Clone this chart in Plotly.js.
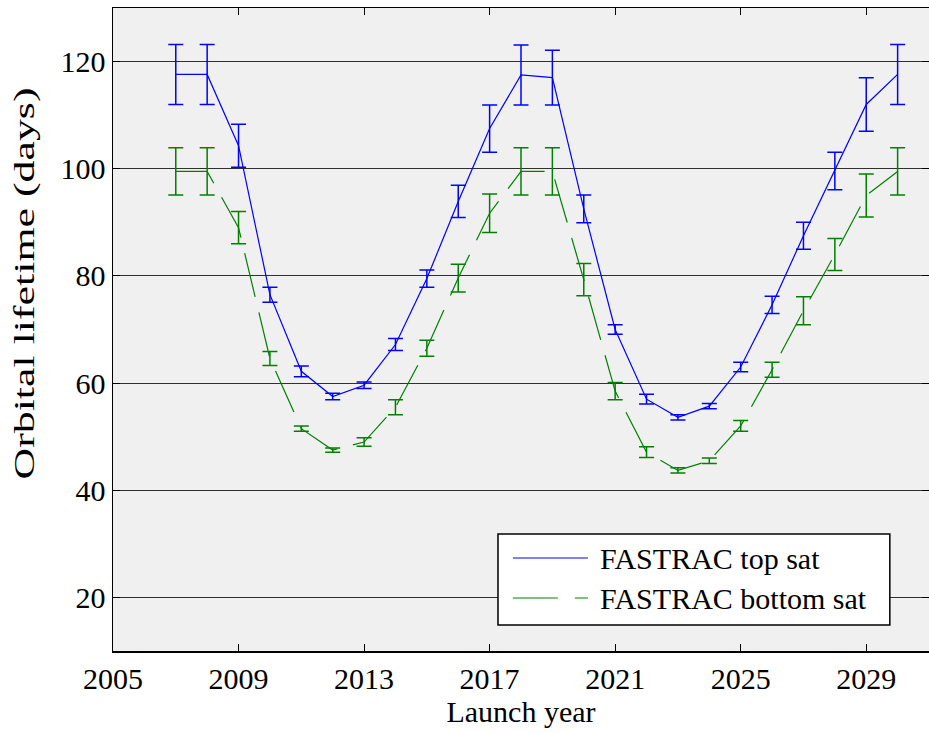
<!DOCTYPE html>
<html>
<head>
<meta charset="utf-8">
<script src="https://cdn.plot.ly/plotly-3.0.1.min.js"></script>
<style>
  html, body { margin: 0; padding: 0; background: #ffffff; }
  #chart { width: 929px; height: 734px; }
</style>
</head>
<body>
<div id="chart"></div>
<script>
// Launch years
const years = [2007, 2008, 2009, 2010, 2011, 2012, 2013, 2014, 2015, 2016, 2017, 2018,
               2019, 2020, 2021, 2022, 2023, 2024, 2025, 2026, 2027, 2028, 2029, 2030];

// Orbital lifetime (days), top satellite: mean and error half-range
const topMean = [117.6, 117.6, 104.3, 76.5, 62.2, 57.5, 59.6, 67.2, 79.5, 93.9, 107.5, 117.5,
                 117.0, 92.5, 70.0, 57.0, 53.6, 55.7, 63.0, 74.6, 87.5, 99.6, 112.0, 117.6];
const topErr  = [5.6, 5.6, 4.0, 1.4, 1.0, 0.6, 0.6, 1.1, 1.6, 3.0, 4.4, 5.6,
                 5.1, 2.6, 0.9, 0.9, 0.5, 0.5, 0.9, 1.6, 2.5, 3.5, 5.0, 5.6];

// Orbital lifetime (days), bottom satellite: mean and error half-range
const botMean = [99.5, 99.5, 89.0, 64.6, 51.5, 47.5, 49.0, 55.5, 66.5, 79.6, 91.7, 99.5,
                 99.5, 79.3, 58.5, 47.1, 43.7, 45.5, 52.0, 62.5, 73.5, 84.0, 95.0, 99.5];
const botErr  = [4.4, 4.4, 3.0, 1.3, 0.5, 0.4, 0.8, 1.4, 1.5, 2.6, 3.6, 4.4,
                 4.4, 3.0, 1.6, 1.0, 0.5, 0.5, 1.0, 1.4, 2.6, 3.0, 4.0, 4.4];

const seriesNames = ["FASTRAC top sat", "FASTRAC bottom sat"];
const xTicks = [2005, 2009, 2013, 2017, 2021, 2025, 2029];
const yTicks = [20, 40, 60, 80, 100, 120];

const BLUE = "#0000ff";
const GREEN = "#008000";
const FONT = "Liberation Serif, Times New Roman, serif";

const traces = [
  {
    x: years, y: botMean, name: seriesNames[1], type: "scatter", mode: "lines",
    line: { color: GREEN, width: 1.2, dash: "45px,16px" },
    error_y: { type: "data", array: botErr, visible: true, color: GREEN, thickness: 1.5, width: 7.5 },
    showlegend: false, hoverinfo: "skip"
  },
  {
    x: years, y: topMean, name: seriesNames[0], type: "scatter", mode: "lines",
    line: { color: BLUE, width: 1.2 },
    error_y: { type: "data", array: topErr, visible: true, color: BLUE, thickness: 1.5, width: 7.5 },
    showlegend: false, hoverinfo: "skip"
  }
];

// Boxed key in the lower right of the axes
const key = { x0: 0.4718, x1: 0.952, y0: 0.0404, y1: 0.182 };
const keyLineX = [0.490, 0.582];
const keyRowsY = [0.1446, 0.0824];
const keyTextX = 0.594;

const layout = {
  width: 929, height: 734,
  margin: { l: 113, r: 0, t: 8, b: 83, pad: 0 },
  paper_bgcolor: "#ffffff",
  plot_bgcolor: "#f0f0f0",
  font: { family: FONT, size: 30, color: "#000000" },
  showlegend: false,
  xaxis: {
    range: [2005, 2031],
    tickmode: "array", tickvals: xTicks, ticktext: xTicks.map(String),
    ticks: "inside", ticklen: 7, tickwidth: 1, tickcolor: "#000000",
    showgrid: false, zeroline: false,
    showline: true, linecolor: "#000000", linewidth: 1.5, mirror: "ticks",
    tickfont: { family: FONT, size: 30 },
    title: { text: "Launch year", font: { family: FONT, size: 30 }, standoff: 4 }
  },
  yaxis: {
    range: [10, 130],
    tickmode: "array", tickvals: yTicks, ticktext: yTicks.map(String),
    ticks: "inside", ticklen: 7, tickwidth: 1, tickcolor: "#000000",
    showgrid: true, gridcolor: "#303030", gridwidth: 1,
    zeroline: false,
    showline: true, linecolor: "#000000", linewidth: 1.5, mirror: "ticks",
    tickfont: { family: FONT, size: 30 },
    title: { text: "Orbital lifetime (days)", font: { family: FONT, size: 30 }, standoff: 17 }
  },
  shapes: [
    { type: "rect", xref: "paper", yref: "paper", x0: key.x0, x1: key.x1, y0: key.y0, y1: key.y1,
      fillcolor: "#ffffff", line: { color: "#000000", width: 1.5 }, layer: "above" },
    { type: "line", xref: "paper", yref: "paper", x0: keyLineX[0], x1: keyLineX[1], y0: keyRowsY[0], y1: keyRowsY[0],
      line: { color: BLUE, width: 1.2 }, layer: "above" },
    { type: "line", xref: "paper", yref: "paper", x0: keyLineX[0], x1: keyLineX[1], y0: keyRowsY[1], y1: keyRowsY[1],
      line: { color: GREEN, width: 1.2, dash: "45px,17px" }, layer: "above" }
  ],
  annotations: seriesNames.map((name, i) => ({
    xref: "paper", yref: "paper", x: keyTextX, y: keyRowsY[i],
    xanchor: "left", yanchor: "middle", showarrow: false,
    text: name, font: { family: FONT, size: 30, color: "#000000" }
  }))
};

Plotly.newPlot("chart", traces, layout, { staticPlot: true, displayModeBar: false }).then(gd => {
  // The y-axis label is set in a tall, narrow face: stretch it along its baseline
  // and lift it slightly above the axes centre.
  const t = gd.querySelector("text.ytitle");
  if (t) {
    t.setAttribute("textLength", "392");
    t.setAttribute("lengthAdjust", "spacingAndGlyphs");
    const rot = t.getAttribute("transform") || "";
    t.setAttribute("transform", "translate(0,-46) " + rot);
  }
});
</script>
</body>
</html>
